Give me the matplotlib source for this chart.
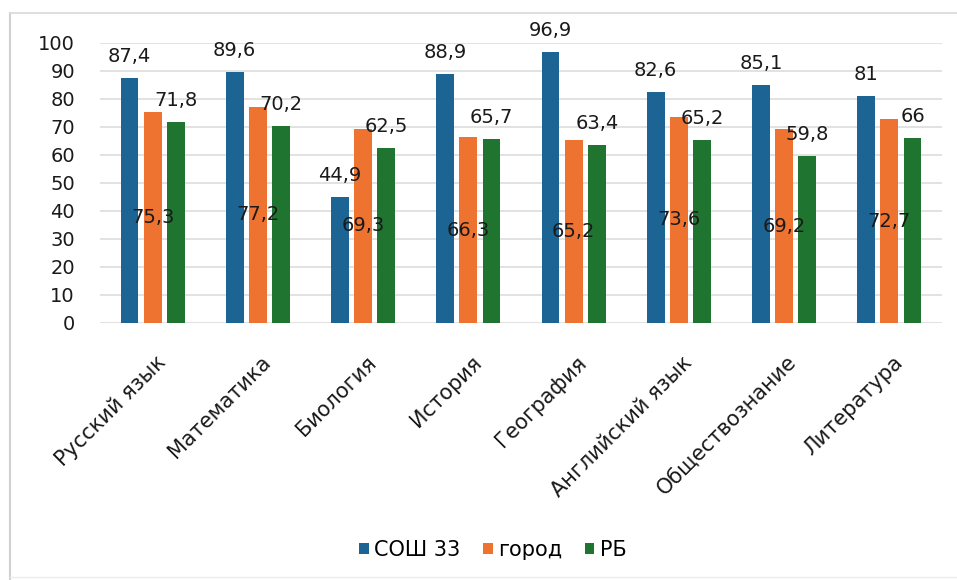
import matplotlib
matplotlib.use("Agg")
import matplotlib.pyplot as plt
import numpy as np
from matplotlib.lines import Line2D
from matplotlib.transforms import ScaledTranslation

plt.rcParams['font.family'] = ['DejaVu Sans']

categories = ["Русский язык", "Математика", "Биология", "История",
              "География", "Английский язык", "Обществознание", "Литература"]
series_names = ["СОШ 33", "город", "РБ"]
sosh33 = [87.4, 89.6, 44.9, 88.9, 96.9, 82.6, 85.1, 81]
gorod = [75.3, 77.2, 69.3, 66.3, 65.2, 73.6, 69.2, 72.7]
rb = [71.8, 70.2, 62.5, 65.7, 63.4, 65.2, 59.8, 66]
y_ticks = list(range(0, 101, 10))

colors = ["#1C6494", "#EE7230", "#1F7530"]

def fmt(v):
    s = f"{v:g}"
    return s.replace(".", ",")

fig = plt.figure(figsize=(9.57, 5.8), dpi=100)
ax = fig.add_axes([100/957, 1-323/580, 842/957, 280/580])

x = np.arange(len(categories))
w = 0.17
off = 0.22
series = [sosh33, gorod, rb]
for i, (vals, c, name) in enumerate(zip(series, colors, series_names)):
    bars = ax.bar(x + (i-1)*off, vals, width=w, color=c, label=name, zorder=3)
    for b, v in zip(bars, vals):
        cx = b.get_x() + b.get_width()/2
        if i == 1:
            ax.text(cx, v/2, fmt(v), ha='center', va='center', fontsize=14,
                    color='#1a1a1a', zorder=4)
        else:
            ax.annotate(fmt(v), (cx, v), xytext=(0, 15.5), textcoords='offset points',
                        ha='center', va='center', fontsize=14, color='#1a1a1a', zorder=4)

ax.set_ylim(0, 100)
ax.set_xlim(-0.5, len(categories)-0.5)
ax.set_yticks(y_ticks)
ax.tick_params(axis='y', length=0, labelsize=14, pad=18, labelcolor='#1a1a1a')
ax.grid(axis='y', color='#e2e2e2', linewidth=1.4, zorder=0)
for s in ax.spines.values():
    s.set_visible(False)

ax.set_xticks(x)
ax.set_xticklabels(categories, rotation=45, ha='right', va='center',
                   rotation_mode='anchor', fontsize=15, color='#1a1a1a')
ax.tick_params(axis='x', length=0, pad=26)
for lab in ax.get_xticklabels():
    lab.set_transform(lab.get_transform() + ScaledTranslation(10/100, 0, fig.dpi_scale_trans))

leg = fig.legend(loc='center', bbox_to_anchor=(0.515, 1-550/580), ncol=3, frameon=False,
                 fontsize=15, handlelength=0.45, handleheight=0.45, handletextpad=0.25,
                 columnspacing=1.1)

# figure frame lines
fig.add_artist(Line2D([10/957, 10/957], [0, 1-13/580], transform=fig.transFigure,
                      color='#d0d0d0', linewidth=1.5))
fig.add_artist(Line2D([10/957, 1], [1-13/580, 1-13/580], transform=fig.transFigure,
                      color='#d9d9d9', linewidth=1.2))
fig.add_artist(Line2D([10/957, 1], [3/580, 3/580], transform=fig.transFigure,
                      color='#ececec', linewidth=1.0))

fig.savefig("out.png", dpi=100)
